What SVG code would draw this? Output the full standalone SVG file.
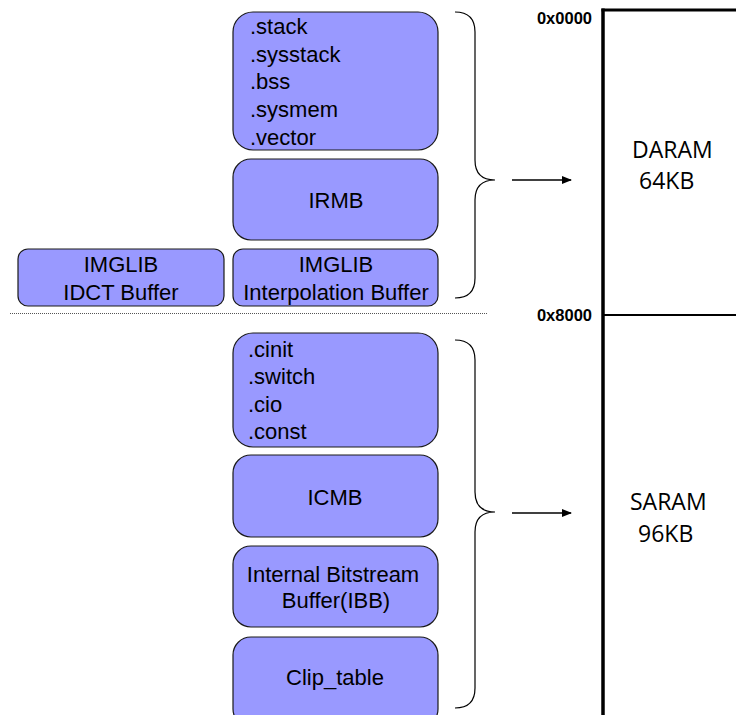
<svg xmlns="http://www.w3.org/2000/svg" width="736" height="715" viewBox="0 0 736 715">
<style>
.box{fill:#9999FF;stroke:#1a1a1a;stroke-width:1.2}
.t{font-family:"Liberation Sans",Arial,sans-serif;font-size:22px;fill:#000}
.c{text-anchor:middle}
.hex{font-family:"Liberation Sans",Arial,sans-serif;font-size:16.5px;font-weight:bold;text-anchor:end;fill:#000}
.mem{font-family:"Open Sans","Noto Sans",sans-serif;font-size:23px;fill:#000}
.brace{fill:none;stroke:#000;stroke-width:1.2}
.arr{stroke:#000;stroke-width:1.5;marker-end:url(#ah)}
</style>
<defs>
<marker id="ah" markerWidth="10" markerHeight="8" refX="9" refY="4" orient="auto" markerUnits="userSpaceOnUse">
<path d="M0,0 L10,4 L0,8 Z" fill="#000"/>
</marker>
</defs>
<rect width="736" height="715" fill="#fff"/>
<g id="sections1">
<rect class="box" x="233" y="12" width="205" height="138" rx="20"/>
<text class="t" x="250" y="34">.stack</text>
<text class="t" x="250" y="62">.sysstack</text>
<text class="t" x="250" y="89">.bss</text>
<text class="t" x="250" y="117">.sysmem</text>
<text class="t" x="250" y="145">.vector</text>
</g>
<g id="irmb">
<rect class="box" x="233" y="159" width="205" height="81" rx="18"/>
<text class="t c" x="336" y="208">IRMB</text>
</g>
<g id="imglib-interp">
<rect class="box" x="233" y="249" width="205" height="57" rx="10"/>
<text class="t c" x="336" y="272">IMGLIB</text>
<text class="t c" x="336" y="300">Interpolation Buffer</text>
</g>
<g id="imglib-idct">
<rect class="box" x="18" y="249" width="206" height="57" rx="10"/>
<text class="t c" x="121" y="272">IMGLIB</text>
<text class="t c" x="121" y="300">IDCT Buffer</text>
</g>
<g id="sections2">
<rect class="box" x="233" y="333" width="205" height="114" rx="20"/>
<text class="t" x="248" y="357">.cinit</text>
<text class="t" x="248" y="384">.switch</text>
<text class="t" x="248" y="412">.cio</text>
<text class="t" x="248" y="439">.const</text>
</g>
<g id="icmb">
<rect class="box" x="233" y="455" width="205" height="82" rx="18"/>
<text class="t c" x="335" y="505">ICMB</text>
</g>
<g id="ibb">
<rect class="box" x="233" y="546" width="205" height="81" rx="18"/>
<text class="t c" x="333" y="582">Internal Bitstream</text>
<text class="t c" x="336" y="608">Buffer(IBB)</text>
</g>
<g id="clip">
<rect class="box" x="233" y="637" width="205" height="90" rx="18"/>
<text class="t c" x="335" y="685">Clip_table</text>
</g>
<g id="memory">
<line x1="603" y1="8.5" x2="603" y2="715" stroke="#000" stroke-width="3.5"/>
<line x1="601.5" y1="10" x2="736" y2="10" stroke="#000" stroke-width="3"/>
<line x1="603" y1="315" x2="736" y2="315" stroke="#000" stroke-width="2"/>
<text class="hex" x="592" y="24">0x0000</text>
<text class="hex" x="592" y="321">0x8000</text>
<text class="mem" x="632" y="158">DARAM</text>
<text class="mem" x="639" y="189">64KB</text>
<text class="mem" x="630" y="510">SARAM</text>
<text class="mem" x="638" y="542">96KB</text>
</g>
<g id="connectors">
<line x1="10" y1="313.5" x2="488" y2="313.5" stroke="#555" stroke-width="1" stroke-dasharray="1 1"/>
<path class="brace" d="M455 12 Q475 12 475 32 L475 160 Q475 180 495 180 Q475 180 475 200 L475 278 Q475 298 455 298"/>
<path class="brace" d="M455 340 Q475 340 475 360 L475 492 Q475 512 495 512 Q475 512 475 532 L475 688 Q475 708 455 708"/>
<line class="arr" x1="512" y1="180" x2="571" y2="180"/>
<line class="arr" x1="512" y1="513" x2="571" y2="513"/>
</g>
</svg>
